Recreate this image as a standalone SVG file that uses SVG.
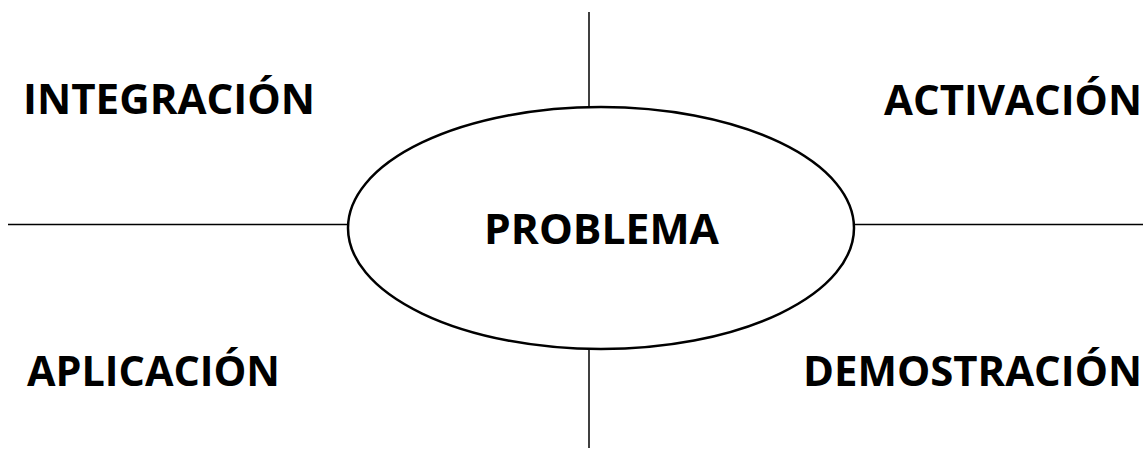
<svg xmlns="http://www.w3.org/2000/svg" width="1143" height="450" viewBox="0 0 1143 450">
<style>
.lbl{font-family:"Open Sans","Liberation Sans",sans-serif;font-weight:bold;font-size:41px;fill:#000}
.ln{stroke:#000;stroke-width:1.5;fill:none}
</style>
<rect width="1143" height="450" fill="#fff"/>
<g id="connectors">
<line class="ln" x1="589" y1="12" x2="589" y2="107"/>
<line class="ln" x1="589" y1="349" x2="589" y2="448"/>
<line class="ln" x1="8" y1="224.5" x2="348" y2="224.5"/>
<line class="ln" x1="854" y1="224.5" x2="1143" y2="224.5"/>
</g>
<g id="problema">
<ellipse cx="601" cy="228" rx="253" ry="121" fill="#fff" stroke="#000" stroke-width="2.5"/>
<text class="lbl" x="484" y="244" textLength="235" lengthAdjust="spacingAndGlyphs">PROBLEMA</text>
</g>
<g id="integracion"><text class="lbl" x="23" y="114" textLength="292" lengthAdjust="spacingAndGlyphs">INTEGRACIÓN</text></g>
<g id="activacion"><text class="lbl" x="884" y="115" textLength="258" lengthAdjust="spacingAndGlyphs">ACTIVACIÓN</text></g>
<g id="aplicacion"><text class="lbl" x="27" y="386" textLength="253" lengthAdjust="spacingAndGlyphs">APLICACIÓN</text></g>
<g id="demostracion"><text class="lbl" x="803" y="386" textLength="339" lengthAdjust="spacingAndGlyphs">DEMOSTRACIÓN</text></g>
</svg>
